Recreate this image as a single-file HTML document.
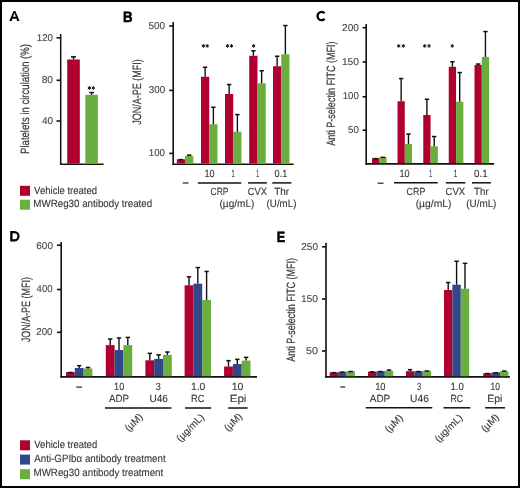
<!DOCTYPE html>
<html><head><meta charset="utf-8"><style>
html,body{margin:0;padding:0;background:#fff;}
#f{position:relative;width:520px;height:488px;box-sizing:border-box;border:2px solid #000;background:#fff;overflow:hidden;}
svg{position:absolute;left:-2px;top:-2px;font-family:"Liberation Sans", sans-serif;text-rendering:geometricPrecision;will-change:transform;}
</style></head><body>
<div id="f"><svg width="520" height="488" viewBox="0 0 520 488">
<path d="M9.3,21 L13.55,10.9 L15.35,10.9 L19.6,21 L17.2,21 L16.45,18.75 L12.45,18.75 L11.7,21 Z M13.05,16.7 L15.85,16.7 L14.45,13.1 Z" fill="#000" fill-rule="evenodd"/>
<path d="M324.55,13.20 A4.1,4.1 0 1 0 324.55,18.90" fill="none" stroke="#000" stroke-width="2.3"/>
<path d="M10.2,231.0 H14.4 A5.2,5.2 0 0 1 14.4,241.4 H10.2 Z M12.55,233.15 H14.4 A3.05,3.05 0 0 1 14.4,239.25 H12.55 Z" fill="#000" fill-rule="evenodd"/>
<line x1="60.7" y1="34" x2="60.7" y2="165" stroke="#111" stroke-width="1.5"/>
<line x1="56.5" y1="37.8" x2="60.7" y2="37.8" stroke="#111" stroke-width="1.6"/>
<line x1="56.5" y1="80.3" x2="60.7" y2="80.3" stroke="#111" stroke-width="1.6"/>
<line x1="56.5" y1="121.0" x2="60.7" y2="121.0" stroke="#111" stroke-width="1.6"/>
<line x1="60" y1="164.25" x2="103.6" y2="164.25" stroke="#111" stroke-width="1.5"/>
<rect x="67.2" y="59.5" width="12.6" height="104.1" fill="#B00030"/>
<line x1="73.5" y1="59.5" x2="73.5" y2="56.6" stroke="#111" stroke-width="1.4"/>
<line x1="71.0" y1="56.85" x2="76.0" y2="56.85" stroke="#111" stroke-width="1.5"/>
<rect x="85.3" y="94.8" width="12.6" height="68.8" fill="#6AAE40"/>
<line x1="91.6" y1="94.8" x2="91.6" y2="92.3" stroke="#111" stroke-width="1.4"/>
<line x1="89.19999999999999" y1="92.55" x2="94.0" y2="92.55" stroke="#111" stroke-width="1.5"/>
<line x1="89.4" y1="86.15" x2="89.4" y2="89.85" stroke="#1a1a1a" stroke-width="1.0"/>
<line x1="87.8" y1="87.08" x2="91.0" y2="88.92" stroke="#1a1a1a" stroke-width="1.0"/>
<line x1="87.8" y1="88.92" x2="91.0" y2="87.08" stroke="#1a1a1a" stroke-width="1.0"/>
<line x1="93.3" y1="86.15" x2="93.3" y2="89.85" stroke="#1a1a1a" stroke-width="1.0"/>
<line x1="91.7" y1="87.08" x2="94.9" y2="88.92" stroke="#1a1a1a" stroke-width="1.0"/>
<line x1="91.7" y1="88.92" x2="94.9" y2="87.08" stroke="#1a1a1a" stroke-width="1.0"/>
<rect x="20" y="185.8" width="10" height="10" fill="#B00030"/>
<rect x="20" y="199.7" width="10" height="10" fill="#6AAE40"/>
<line x1="173.2" y1="22" x2="173.2" y2="165" stroke="#111" stroke-width="1.6"/>
<line x1="169.2" y1="26.0" x2="173.2" y2="26.0" stroke="#111" stroke-width="1.6"/>
<line x1="169.2" y1="90.4" x2="173.2" y2="90.4" stroke="#111" stroke-width="1.6"/>
<line x1="169.2" y1="153.4" x2="173.2" y2="153.4" stroke="#111" stroke-width="1.6"/>
<line x1="172.4" y1="164.2" x2="293.7" y2="164.2" stroke="#111" stroke-width="1.6"/>
<rect x="176.8" y="159.3" width="8.25" height="4.199999999999989" fill="#B00030"/>
<line x1="178.72500000000002" y1="159.65" x2="183.125" y2="159.65" stroke="#111" stroke-width="1.5"/>
<rect x="185.05" y="155.8" width="8.25" height="7.699999999999989" fill="#6AAE40"/>
<line x1="189.175" y1="155.8" x2="189.175" y2="154.9" stroke="#111" stroke-width="1.4"/>
<line x1="186.97500000000002" y1="155.15" x2="191.375" y2="155.15" stroke="#111" stroke-width="1.5"/>
<rect x="201" y="76.75" width="8.25" height="86.75" fill="#B00030"/>
<line x1="205.125" y1="76.75" x2="205.125" y2="67.0" stroke="#111" stroke-width="1.4"/>
<line x1="202.925" y1="67.25" x2="207.325" y2="67.25" stroke="#111" stroke-width="1.5"/>
<rect x="209.25" y="124.25" width="8.25" height="39.25" fill="#6AAE40"/>
<line x1="213.375" y1="124.25" x2="213.375" y2="107.0" stroke="#111" stroke-width="1.4"/>
<line x1="211.175" y1="107.25" x2="215.575" y2="107.25" stroke="#111" stroke-width="1.5"/>
<rect x="225" y="94" width="8.25" height="69.5" fill="#B00030"/>
<line x1="229.125" y1="94" x2="229.125" y2="84.3" stroke="#111" stroke-width="1.4"/>
<line x1="226.925" y1="84.55" x2="231.325" y2="84.55" stroke="#111" stroke-width="1.5"/>
<rect x="233.25" y="131.75" width="8.25" height="31.75" fill="#6AAE40"/>
<line x1="237.375" y1="131.75" x2="237.375" y2="114.3" stroke="#111" stroke-width="1.4"/>
<line x1="235.175" y1="114.55" x2="239.575" y2="114.55" stroke="#111" stroke-width="1.5"/>
<rect x="249.25" y="55.75" width="8.25" height="107.75" fill="#B00030"/>
<line x1="253.375" y1="55.75" x2="253.375" y2="50.5" stroke="#111" stroke-width="1.4"/>
<line x1="251.175" y1="50.75" x2="255.575" y2="50.75" stroke="#111" stroke-width="1.5"/>
<rect x="257.5" y="83.25" width="8.25" height="80.25" fill="#6AAE40"/>
<line x1="261.625" y1="83.25" x2="261.625" y2="70.5" stroke="#111" stroke-width="1.4"/>
<line x1="259.425" y1="70.75" x2="263.825" y2="70.75" stroke="#111" stroke-width="1.5"/>
<rect x="273" y="66.25" width="8.25" height="97.25" fill="#B00030"/>
<line x1="277.125" y1="66.25" x2="277.125" y2="56.0" stroke="#111" stroke-width="1.4"/>
<line x1="274.925" y1="56.25" x2="279.325" y2="56.25" stroke="#111" stroke-width="1.5"/>
<rect x="281.25" y="54.25" width="8.25" height="109.25" fill="#6AAE40"/>
<line x1="285.375" y1="54.25" x2="285.375" y2="25.3" stroke="#111" stroke-width="1.4"/>
<line x1="283.175" y1="25.55" x2="287.575" y2="25.55" stroke="#111" stroke-width="1.5"/>
<line x1="203.4" y1="44.05" x2="203.4" y2="47.75" stroke="#1a1a1a" stroke-width="1.0"/>
<line x1="201.8" y1="44.98" x2="205.0" y2="46.82" stroke="#1a1a1a" stroke-width="1.0"/>
<line x1="201.8" y1="46.82" x2="205.0" y2="44.98" stroke="#1a1a1a" stroke-width="1.0"/>
<line x1="207.2" y1="44.05" x2="207.2" y2="47.75" stroke="#1a1a1a" stroke-width="1.0"/>
<line x1="205.6" y1="44.98" x2="208.8" y2="46.82" stroke="#1a1a1a" stroke-width="1.0"/>
<line x1="205.6" y1="46.82" x2="208.8" y2="44.98" stroke="#1a1a1a" stroke-width="1.0"/>
<line x1="227.5" y1="44.05" x2="227.5" y2="47.75" stroke="#1a1a1a" stroke-width="1.0"/>
<line x1="225.9" y1="44.98" x2="229.1" y2="46.82" stroke="#1a1a1a" stroke-width="1.0"/>
<line x1="225.9" y1="46.82" x2="229.1" y2="44.98" stroke="#1a1a1a" stroke-width="1.0"/>
<line x1="231.5" y1="44.05" x2="231.5" y2="47.75" stroke="#1a1a1a" stroke-width="1.0"/>
<line x1="229.9" y1="44.98" x2="233.1" y2="46.82" stroke="#1a1a1a" stroke-width="1.0"/>
<line x1="229.9" y1="46.82" x2="233.1" y2="44.98" stroke="#1a1a1a" stroke-width="1.0"/>
<line x1="253.6" y1="44.05" x2="253.6" y2="47.75" stroke="#1a1a1a" stroke-width="1.0"/>
<line x1="252.0" y1="44.98" x2="255.2" y2="46.82" stroke="#1a1a1a" stroke-width="1.0"/>
<line x1="252.0" y1="46.82" x2="255.2" y2="44.98" stroke="#1a1a1a" stroke-width="1.0"/>
<line x1="182.70000000000002" y1="183.0" x2="188.5" y2="183.0" stroke="#333" stroke-width="1.3"/>
<line x1="197.9" y1="182.9" x2="241.2" y2="182.9" stroke="#111" stroke-width="1.5"/>
<line x1="248.1" y1="182.9" x2="266.9" y2="182.9" stroke="#111" stroke-width="1.5"/>
<line x1="272.3" y1="182.9" x2="291.4" y2="182.9" stroke="#111" stroke-width="1.5"/>
<line x1="366.2" y1="24.1" x2="366.2" y2="165" stroke="#111" stroke-width="1.6"/>
<line x1="362.5" y1="27.7" x2="366.2" y2="27.7" stroke="#111" stroke-width="1.6"/>
<line x1="362.5" y1="62.0" x2="366.2" y2="62.0" stroke="#111" stroke-width="1.6"/>
<line x1="362.5" y1="96.8" x2="366.2" y2="96.8" stroke="#111" stroke-width="1.6"/>
<line x1="362.5" y1="130.2" x2="366.2" y2="130.2" stroke="#111" stroke-width="1.6"/>
<line x1="365.5" y1="163.9" x2="494.2" y2="163.9" stroke="#111" stroke-width="1.6"/>
<rect x="372" y="158.25" width="7.3" height="4.949999999999989" fill="#B00030"/>
<line x1="373.45" y1="158.6" x2="377.84999999999997" y2="158.6" stroke="#111" stroke-width="1.5"/>
<rect x="379.3" y="157" width="7.3" height="6.199999999999989" fill="#6AAE40"/>
<line x1="380.75" y1="157.35" x2="385.15" y2="157.35" stroke="#111" stroke-width="1.5"/>
<rect x="397.5" y="101.25" width="7.3" height="61.94999999999999" fill="#B00030"/>
<line x1="401.15" y1="101.25" x2="401.15" y2="78.3" stroke="#111" stroke-width="1.4"/>
<line x1="398.95" y1="78.55" x2="403.34999999999997" y2="78.55" stroke="#111" stroke-width="1.5"/>
<rect x="404.8" y="144" width="7.3" height="19.19999999999999" fill="#6AAE40"/>
<line x1="408.45" y1="144" x2="408.45" y2="133.8" stroke="#111" stroke-width="1.4"/>
<line x1="406.25" y1="134.05" x2="410.65" y2="134.05" stroke="#111" stroke-width="1.5"/>
<rect x="423.25" y="115" width="7.3" height="48.19999999999999" fill="#B00030"/>
<line x1="426.9" y1="115" x2="426.9" y2="99.0" stroke="#111" stroke-width="1.4"/>
<line x1="424.7" y1="99.25" x2="429.09999999999997" y2="99.25" stroke="#111" stroke-width="1.5"/>
<rect x="430.55" y="146.25" width="7.3" height="16.94999999999999" fill="#6AAE40"/>
<line x1="434.2" y1="146.25" x2="434.2" y2="136.3" stroke="#111" stroke-width="1.4"/>
<line x1="432.0" y1="136.55" x2="436.4" y2="136.55" stroke="#111" stroke-width="1.5"/>
<rect x="448.75" y="66.75" width="7.3" height="96.44999999999999" fill="#B00030"/>
<line x1="452.4" y1="66.75" x2="452.4" y2="61.5" stroke="#111" stroke-width="1.4"/>
<line x1="450.2" y1="61.75" x2="454.59999999999997" y2="61.75" stroke="#111" stroke-width="1.5"/>
<rect x="456.05" y="101.75" width="7.3" height="61.44999999999999" fill="#6AAE40"/>
<line x1="459.7" y1="101.75" x2="459.7" y2="72.3" stroke="#111" stroke-width="1.4"/>
<line x1="457.5" y1="72.55" x2="461.9" y2="72.55" stroke="#111" stroke-width="1.5"/>
<rect x="474.5" y="65" width="7.3" height="98.19999999999999" fill="#B00030"/>
<line x1="478.15" y1="65" x2="478.15" y2="63.8" stroke="#111" stroke-width="1.4"/>
<line x1="475.95" y1="64.05" x2="480.34999999999997" y2="64.05" stroke="#111" stroke-width="1.5"/>
<rect x="481.8" y="57" width="7.3" height="106.19999999999999" fill="#6AAE40"/>
<line x1="485.45" y1="57" x2="485.45" y2="31.3" stroke="#111" stroke-width="1.4"/>
<line x1="483.25" y1="31.55" x2="487.65" y2="31.55" stroke="#111" stroke-width="1.5"/>
<line x1="398.7" y1="44.05" x2="398.7" y2="47.75" stroke="#1a1a1a" stroke-width="1.0"/>
<line x1="397.1" y1="44.98" x2="400.3" y2="46.82" stroke="#1a1a1a" stroke-width="1.0"/>
<line x1="397.1" y1="46.82" x2="400.3" y2="44.98" stroke="#1a1a1a" stroke-width="1.0"/>
<line x1="403.3" y1="44.05" x2="403.3" y2="47.75" stroke="#1a1a1a" stroke-width="1.0"/>
<line x1="401.7" y1="44.98" x2="404.9" y2="46.82" stroke="#1a1a1a" stroke-width="1.0"/>
<line x1="401.7" y1="46.82" x2="404.9" y2="44.98" stroke="#1a1a1a" stroke-width="1.0"/>
<line x1="424.7" y1="44.05" x2="424.7" y2="47.75" stroke="#1a1a1a" stroke-width="1.0"/>
<line x1="423.1" y1="44.98" x2="426.3" y2="46.82" stroke="#1a1a1a" stroke-width="1.0"/>
<line x1="423.1" y1="46.82" x2="426.3" y2="44.98" stroke="#1a1a1a" stroke-width="1.0"/>
<line x1="429.05" y1="44.05" x2="429.05" y2="47.75" stroke="#1a1a1a" stroke-width="1.0"/>
<line x1="427.45" y1="44.98" x2="430.65" y2="46.82" stroke="#1a1a1a" stroke-width="1.0"/>
<line x1="427.45" y1="46.82" x2="430.65" y2="44.98" stroke="#1a1a1a" stroke-width="1.0"/>
<line x1="452.25" y1="44.05" x2="452.25" y2="47.75" stroke="#1a1a1a" stroke-width="1.0"/>
<line x1="450.65" y1="44.98" x2="453.85" y2="46.82" stroke="#1a1a1a" stroke-width="1.0"/>
<line x1="450.65" y1="46.82" x2="453.85" y2="44.98" stroke="#1a1a1a" stroke-width="1.0"/>
<line x1="377.7" y1="183.2" x2="383.5" y2="183.2" stroke="#333" stroke-width="1.3"/>
<line x1="394.0" y1="182.8" x2="437.7" y2="182.8" stroke="#111" stroke-width="1.5"/>
<line x1="445.8" y1="182.8" x2="465.3" y2="182.8" stroke="#111" stroke-width="1.5"/>
<line x1="472.0" y1="182.8" x2="490.9" y2="182.8" stroke="#111" stroke-width="1.5"/>
<line x1="61.2" y1="241.9" x2="61.2" y2="377.8" stroke="#111" stroke-width="1.6"/>
<line x1="57.0" y1="245.2" x2="61.2" y2="245.2" stroke="#111" stroke-width="1.6"/>
<line x1="57.0" y1="289.5" x2="61.2" y2="289.5" stroke="#111" stroke-width="1.6"/>
<line x1="57.0" y1="332.3" x2="61.2" y2="332.3" stroke="#111" stroke-width="1.6"/>
<line x1="60.5" y1="376.9" x2="257.0" y2="376.9" stroke="#111" stroke-width="1.7"/>
<rect x="66.0" y="372.1" width="8.8" height="4.099999999999966" fill="#B00030"/>
<line x1="68.2" y1="372.45000000000005" x2="72.60000000000001" y2="372.45000000000005" stroke="#111" stroke-width="1.5"/>
<rect x="74.8" y="368.0" width="8.8" height="8.199999999999989" fill="#30488A"/>
<line x1="79.2" y1="368.0" x2="79.2" y2="365.4" stroke="#111" stroke-width="1.4"/>
<line x1="77.0" y1="365.65" x2="81.4" y2="365.65" stroke="#111" stroke-width="1.5"/>
<rect x="83.6" y="368.5" width="8.8" height="7.699999999999989" fill="#6AAE40"/>
<line x1="88.0" y1="368.5" x2="88.0" y2="367.2" stroke="#111" stroke-width="1.4"/>
<line x1="85.8" y1="367.45" x2="90.2" y2="367.45" stroke="#111" stroke-width="1.5"/>
<rect x="105.8" y="345.1" width="8.8" height="31.099999999999966" fill="#B00030"/>
<line x1="110.2" y1="345.1" x2="110.2" y2="338.8" stroke="#111" stroke-width="1.4"/>
<line x1="108.0" y1="339.05" x2="112.4" y2="339.05" stroke="#111" stroke-width="1.5"/>
<rect x="114.6" y="350.0" width="8.8" height="26.19999999999999" fill="#30488A"/>
<line x1="119.0" y1="350.0" x2="119.0" y2="337.7" stroke="#111" stroke-width="1.4"/>
<line x1="116.8" y1="337.95" x2="121.2" y2="337.95" stroke="#111" stroke-width="1.5"/>
<rect x="123.4" y="345.1" width="8.8" height="31.099999999999966" fill="#6AAE40"/>
<line x1="127.80000000000001" y1="345.1" x2="127.80000000000001" y2="337.2" stroke="#111" stroke-width="1.4"/>
<line x1="125.60000000000001" y1="337.45" x2="130.0" y2="337.45" stroke="#111" stroke-width="1.5"/>
<rect x="145.4" y="360.3" width="8.8" height="15.899999999999977" fill="#B00030"/>
<line x1="149.8" y1="360.3" x2="149.8" y2="353.1" stroke="#111" stroke-width="1.4"/>
<line x1="147.60000000000002" y1="353.35" x2="152.0" y2="353.35" stroke="#111" stroke-width="1.5"/>
<rect x="154.20000000000002" y="358.9" width="8.8" height="17.30000000000001" fill="#30488A"/>
<line x1="158.60000000000002" y1="358.9" x2="158.60000000000002" y2="354.6" stroke="#111" stroke-width="1.4"/>
<line x1="156.40000000000003" y1="354.85" x2="160.8" y2="354.85" stroke="#111" stroke-width="1.5"/>
<rect x="163.0" y="354.9" width="8.8" height="21.30000000000001" fill="#6AAE40"/>
<line x1="167.4" y1="354.9" x2="167.4" y2="351.8" stroke="#111" stroke-width="1.4"/>
<line x1="165.20000000000002" y1="352.05" x2="169.6" y2="352.05" stroke="#111" stroke-width="1.5"/>
<rect x="184.6" y="285.3" width="8.8" height="90.89999999999998" fill="#B00030"/>
<line x1="189.0" y1="285.3" x2="189.0" y2="276.6" stroke="#111" stroke-width="1.4"/>
<line x1="186.8" y1="276.85" x2="191.2" y2="276.85" stroke="#111" stroke-width="1.5"/>
<rect x="193.4" y="283.7" width="8.8" height="92.5" fill="#30488A"/>
<line x1="197.8" y1="283.7" x2="197.8" y2="267.3" stroke="#111" stroke-width="1.4"/>
<line x1="195.60000000000002" y1="267.55" x2="200.0" y2="267.55" stroke="#111" stroke-width="1.5"/>
<rect x="202.2" y="299.9" width="8.8" height="76.30000000000001" fill="#6AAE40"/>
<line x1="206.6" y1="299.9" x2="206.6" y2="271.2" stroke="#111" stroke-width="1.4"/>
<line x1="204.4" y1="271.45" x2="208.79999999999998" y2="271.45" stroke="#111" stroke-width="1.5"/>
<rect x="224.1" y="366.5" width="8.8" height="9.699999999999989" fill="#B00030"/>
<line x1="228.5" y1="366.5" x2="228.5" y2="360.4" stroke="#111" stroke-width="1.4"/>
<line x1="226.3" y1="360.65" x2="230.7" y2="360.65" stroke="#111" stroke-width="1.5"/>
<rect x="232.9" y="364.0" width="8.8" height="12.199999999999989" fill="#30488A"/>
<line x1="237.3" y1="364.0" x2="237.3" y2="359.1" stroke="#111" stroke-width="1.4"/>
<line x1="235.10000000000002" y1="359.35" x2="239.5" y2="359.35" stroke="#111" stroke-width="1.5"/>
<rect x="241.7" y="360.6" width="8.8" height="15.599999999999966" fill="#6AAE40"/>
<line x1="246.1" y1="360.6" x2="246.1" y2="357.1" stroke="#111" stroke-width="1.4"/>
<line x1="243.9" y1="357.35" x2="248.29999999999998" y2="357.35" stroke="#111" stroke-width="1.5"/>
<line x1="76.3" y1="387.1" x2="82.10000000000001" y2="387.1" stroke="#333" stroke-width="1.3"/>
<line x1="105.0" y1="408.0" x2="171.4" y2="408.0" stroke="#111" stroke-width="1.5"/>
<line x1="185.1" y1="408.0" x2="211.2" y2="408.0" stroke="#111" stroke-width="1.5"/>
<line x1="228.2" y1="408.0" x2="247.7" y2="408.0" stroke="#111" stroke-width="1.5"/>
<line x1="326.0" y1="242.8" x2="326.0" y2="377.8" stroke="#111" stroke-width="1.6"/>
<line x1="322.0" y1="246.8" x2="326.0" y2="246.8" stroke="#111" stroke-width="1.6"/>
<line x1="322.0" y1="299.0" x2="326.0" y2="299.0" stroke="#111" stroke-width="1.6"/>
<line x1="322.0" y1="351.0" x2="326.0" y2="351.0" stroke="#111" stroke-width="1.6"/>
<line x1="325.3" y1="376.9" x2="509.9" y2="376.9" stroke="#111" stroke-width="1.7"/>
<rect x="329.7" y="372.3" width="8.4" height="3.8999999999999773" fill="#B00030"/>
<line x1="331.7" y1="372.65000000000003" x2="336.09999999999997" y2="372.65000000000003" stroke="#111" stroke-width="1.5"/>
<rect x="338.09999999999997" y="371.8" width="8.4" height="4.399999999999977" fill="#30488A"/>
<line x1="340.09999999999997" y1="372.15000000000003" x2="344.49999999999994" y2="372.15000000000003" stroke="#111" stroke-width="1.5"/>
<rect x="346.5" y="371.2" width="8.4" height="5.0" fill="#6AAE40"/>
<line x1="348.5" y1="371.55" x2="352.9" y2="371.55" stroke="#111" stroke-width="1.5"/>
<rect x="368.0" y="371.6" width="8.4" height="4.599999999999966" fill="#B00030"/>
<line x1="370.0" y1="371.95000000000005" x2="374.4" y2="371.95000000000005" stroke="#111" stroke-width="1.5"/>
<rect x="376.4" y="371.2" width="8.4" height="5.0" fill="#30488A"/>
<line x1="378.4" y1="371.55" x2="382.79999999999995" y2="371.55" stroke="#111" stroke-width="1.5"/>
<rect x="384.8" y="370.7" width="8.4" height="5.5" fill="#6AAE40"/>
<line x1="389.0" y1="370.7" x2="389.0" y2="369.8" stroke="#111" stroke-width="1.4"/>
<line x1="386.8" y1="370.05" x2="391.2" y2="370.05" stroke="#111" stroke-width="1.5"/>
<rect x="405.9" y="371.2" width="8.4" height="5.0" fill="#B00030"/>
<line x1="410.09999999999997" y1="371.2" x2="410.09999999999997" y2="369.4" stroke="#111" stroke-width="1.4"/>
<line x1="407.9" y1="369.65" x2="412.29999999999995" y2="369.65" stroke="#111" stroke-width="1.5"/>
<rect x="414.29999999999995" y="371.2" width="8.4" height="5.0" fill="#30488A"/>
<line x1="416.29999999999995" y1="371.55" x2="420.69999999999993" y2="371.55" stroke="#111" stroke-width="1.5"/>
<rect x="422.7" y="370.7" width="8.4" height="5.5" fill="#6AAE40"/>
<line x1="424.7" y1="371.05" x2="429.09999999999997" y2="371.05" stroke="#111" stroke-width="1.5"/>
<rect x="444.0" y="290.0" width="8.4" height="86.19999999999999" fill="#B00030"/>
<line x1="448.2" y1="290.0" x2="448.2" y2="282.3" stroke="#111" stroke-width="1.4"/>
<line x1="446.0" y1="282.55" x2="450.4" y2="282.55" stroke="#111" stroke-width="1.5"/>
<rect x="452.4" y="284.7" width="8.4" height="91.5" fill="#30488A"/>
<line x1="456.59999999999997" y1="284.7" x2="456.59999999999997" y2="261.0" stroke="#111" stroke-width="1.4"/>
<line x1="454.4" y1="261.25" x2="458.79999999999995" y2="261.25" stroke="#111" stroke-width="1.5"/>
<rect x="460.8" y="288.7" width="8.4" height="87.5" fill="#6AAE40"/>
<line x1="465.0" y1="288.7" x2="465.0" y2="263.1" stroke="#111" stroke-width="1.4"/>
<line x1="462.8" y1="263.35" x2="467.2" y2="263.35" stroke="#111" stroke-width="1.5"/>
<rect x="483.2" y="373.2" width="8.4" height="3.0" fill="#B00030"/>
<line x1="485.2" y1="373.55" x2="489.59999999999997" y2="373.55" stroke="#111" stroke-width="1.5"/>
<rect x="491.59999999999997" y="372.4" width="8.4" height="3.8000000000000114" fill="#30488A"/>
<line x1="493.59999999999997" y1="372.75" x2="497.99999999999994" y2="372.75" stroke="#111" stroke-width="1.5"/>
<rect x="500.0" y="371.3" width="8.4" height="4.899999999999977" fill="#6AAE40"/>
<line x1="502.0" y1="371.05" x2="506.4" y2="371.05" stroke="#111" stroke-width="1.5"/>
<line x1="340.3" y1="387.0" x2="345.2" y2="387.0" stroke="#333" stroke-width="1.3"/>
<line x1="365.75" y1="407.8" x2="432.3" y2="407.8" stroke="#111" stroke-width="1.5"/>
<line x1="443.5" y1="407.8" x2="470.3" y2="407.8" stroke="#111" stroke-width="1.5"/>
<line x1="485.1" y1="407.8" x2="505.1" y2="407.8" stroke="#111" stroke-width="1.5"/>
<rect x="20" y="440.3" width="10" height="10" fill="#B00030"/>
<rect x="20" y="454.6" width="10" height="10" fill="#30488A"/>
<rect x="20" y="469.2" width="10" height="10" fill="#6AAE40"/>
<text transform="translate(123.01,21.50) scale(0.882,1)" font-size="15.0" fill="#000" font-weight="bold" stroke="#000" stroke-width="0.6">B</text>
<text transform="translate(276.84,241.50) scale(0.842,1)" font-size="15.0" fill="#000" font-weight="bold" stroke="#000" stroke-width="0.6">E</text>
<text transform="translate(36.82,40.70) scale(0.983,1)" font-size="9.9" fill="#474747" stroke="#474747" stroke-width="0.12">120</text>
<text transform="translate(41.69,82.70) scale(1.033,1)" font-size="9.9" fill="#474747" stroke="#474747" stroke-width="0.12">80</text>
<text transform="translate(41.90,123.70) scale(1.014,1)" font-size="9.9" fill="#474747" stroke="#474747" stroke-width="0.12">40</text>
<text transform="translate(28.60,153.91) rotate(-90) scale(0.796,1)" font-size="12.0" fill="#383838" stroke="#383838" stroke-width="0.22">Platelets in circulation (%)</text>
<text transform="translate(34.10,193.60) scale(0.907,1)" font-size="10.5" fill="#383838" stroke="#383838" stroke-width="0.12">Vehicle treated</text>
<text transform="translate(33.32,207.40) scale(0.930,1)" font-size="10.5" fill="#383838" stroke="#383838" stroke-width="0.12">MWReg30 antibody treated</text>
<text transform="translate(148.60,28.50) scale(1.002,1)" font-size="9.9" fill="#474747" stroke="#474747" stroke-width="0.12">500</text>
<text transform="translate(148.70,92.60) scale(0.996,1)" font-size="9.9" fill="#474747" stroke="#474747" stroke-width="0.12">300</text>
<text transform="translate(148.82,156.30) scale(0.983,1)" font-size="9.9" fill="#474747" stroke="#474747" stroke-width="0.12">100</text>
<text transform="translate(141.10,124.79) rotate(-90) scale(0.751,1)" font-size="12.0" fill="#383838" stroke="#383838" stroke-width="0.22">JON/A-PE (MFI)</text>
<text transform="translate(204.46,176.60) scale(0.879,1)" font-size="10.4" fill="#383838" stroke="#383838" stroke-width="0.12">10</text>
<text transform="translate(231.60,176.60) scale(0.546,1)" font-size="10.4" fill="#383838" stroke="#383838" stroke-width="0.12">1</text>
<text transform="translate(256.13,176.60) scale(0.503,1)" font-size="10.4" fill="#383838" stroke="#383838" stroke-width="0.12">1</text>
<text transform="translate(274.62,176.60) scale(0.885,1)" font-size="10.4" fill="#383838" stroke="#383838" stroke-width="0.12">0.1</text>
<text transform="translate(210.47,195.00) scale(0.821,1)" font-size="10.4" fill="#383838" stroke="#383838" stroke-width="0.12">CRP</text>
<text transform="translate(247.63,195.00) scale(0.904,1)" font-size="10.4" fill="#383838" stroke="#383838" stroke-width="0.12">CVX</text>
<text transform="translate(274.20,195.00) scale(0.957,1)" font-size="10.4" fill="#383838" stroke="#383838" stroke-width="0.12">Thr</text>
<text transform="translate(219.50,206.60) scale(0.969,1)" font-size="10.4" fill="#383838" stroke="#383838" stroke-width="0.12">(µg/mL)</text>
<text transform="translate(266.61,206.60) scale(0.938,1)" font-size="10.4" fill="#383838" stroke="#383838" stroke-width="0.12">(U/mL)</text>
<text transform="translate(342.09,30.50) scale(1.021,1)" font-size="9.9" fill="#474747" stroke="#474747" stroke-width="0.12">200</text>
<text transform="translate(341.88,64.50) scale(1.034,1)" font-size="9.9" fill="#474747" stroke="#474747" stroke-width="0.12">150</text>
<text transform="translate(342.72,98.60) scale(0.983,1)" font-size="9.9" fill="#474747" stroke="#474747" stroke-width="0.12">100</text>
<text transform="translate(348.11,133.30) scale(0.985,1)" font-size="9.9" fill="#474747" stroke="#474747" stroke-width="0.12">50</text>
<text transform="translate(335.40,145.80) rotate(-90) scale(0.753,1)" font-size="12.0" fill="#383838" stroke="#383838" stroke-width="0.22">Anti P-selectin FITC (MFI)</text>
<text transform="translate(399.46,176.60) scale(0.879,1)" font-size="10.4" fill="#383838" stroke="#383838" stroke-width="0.12">10</text>
<text transform="translate(429.13,176.60) scale(0.503,1)" font-size="10.4" fill="#383838" stroke="#383838" stroke-width="0.12">1</text>
<text transform="translate(453.65,176.60) scale(0.612,1)" font-size="10.4" fill="#383838" stroke="#383838" stroke-width="0.12">1</text>
<text transform="translate(474.01,176.60) scale(0.944,1)" font-size="10.4" fill="#383838" stroke="#383838" stroke-width="0.12">0.1</text>
<text transform="translate(406.56,195.00) scale(0.854,1)" font-size="10.4" fill="#383838" stroke="#383838" stroke-width="0.12">CRP</text>
<text transform="translate(445.62,195.00) scale(0.914,1)" font-size="10.4" fill="#383838" stroke="#383838" stroke-width="0.12">CVX</text>
<text transform="translate(474.11,195.00) scale(0.931,1)" font-size="10.4" fill="#383838" stroke="#383838" stroke-width="0.12">Thr</text>
<text transform="translate(415.68,206.60) scale(0.992,1)" font-size="10.4" fill="#383838" stroke="#383838" stroke-width="0.12">(µg/mL)</text>
<text transform="translate(466.31,206.60) scale(0.948,1)" font-size="10.4" fill="#383838" stroke="#383838" stroke-width="0.12">(U/mL)</text>
<text transform="translate(36.30,248.60) scale(1.009,1)" font-size="9.9" fill="#474747" stroke="#474747" stroke-width="0.12">600</text>
<text transform="translate(36.61,292.00) scale(0.965,1)" font-size="9.9" fill="#474747" stroke="#474747" stroke-width="0.12">400</text>
<text transform="translate(36.31,335.30) scale(0.983,1)" font-size="9.9" fill="#474747" stroke="#474747" stroke-width="0.12">200</text>
<text transform="translate(29.80,342.29) rotate(-90) scale(0.747,1)" font-size="12.0" fill="#383838" stroke="#383838" stroke-width="0.22">JON/A-PE (MFI)</text>
<text transform="translate(114.06,389.50) scale(0.879,1)" font-size="10.4" fill="#383838" stroke="#383838" stroke-width="0.12">10</text>
<text transform="translate(155.63,389.50) scale(0.863,1)" font-size="10.4" fill="#383838" stroke="#383838" stroke-width="0.12">3</text>
<text transform="translate(190.97,389.50) scale(0.996,1)" font-size="10.4" fill="#383838" stroke="#383838" stroke-width="0.12">1.0</text>
<text transform="translate(231.66,389.50) scale(1.013,1)" font-size="10.4" fill="#383838" stroke="#383838" stroke-width="0.12">10</text>
<text transform="translate(109.00,401.60) scale(0.938,1)" font-size="10.4" fill="#383838" stroke="#383838" stroke-width="0.12">ADP</text>
<text transform="translate(149.40,401.60) scale(0.968,1)" font-size="10.4" fill="#383838" stroke="#383838" stroke-width="0.12">U46</text>
<text transform="translate(190.96,401.60) scale(0.895,1)" font-size="10.4" fill="#383838" stroke="#383838" stroke-width="0.12">RC</text>
<text transform="translate(229.78,401.60) scale(1.107,1)" font-size="10.4" fill="#383838" stroke="#383838" stroke-width="0.12">Epi</text>
<text transform="translate(143.40,417.40) rotate(-45)" font-size="10.0" fill="#383838" stroke="#383838" stroke-width="0.12" text-anchor="end">(µM)</text>
<text transform="translate(204.80,417.80) rotate(-45)" font-size="10.0" fill="#383838" stroke="#383838" stroke-width="0.12" text-anchor="end">(µg/mL)</text>
<text transform="translate(242.80,417.10) rotate(-45)" font-size="10.0" fill="#383838" stroke="#383838" stroke-width="0.12" text-anchor="end">(µM)</text>
<text transform="translate(301.30,249.50) scale(1.009,1)" font-size="9.9" fill="#474747" stroke="#474747" stroke-width="0.12">250</text>
<text transform="translate(300.88,302.00) scale(1.041,1)" font-size="9.9" fill="#474747" stroke="#474747" stroke-width="0.12">150</text>
<text transform="translate(306.07,354.10) scale(1.092,1)" font-size="9.9" fill="#474747" stroke="#474747" stroke-width="0.12">50</text>
<text transform="translate(294.80,361.80) rotate(-90) scale(0.749,1)" font-size="12.0" fill="#383838" stroke="#383838" stroke-width="0.22">Anti P-selectin FITC (MFI)</text>
<text transform="translate(375.15,389.50) scale(0.898,1)" font-size="10.4" fill="#383838" stroke="#383838" stroke-width="0.12">10</text>
<text transform="translate(417.08,389.50) scale(0.716,1)" font-size="10.4" fill="#383838" stroke="#383838" stroke-width="0.12">3</text>
<text transform="translate(450.42,389.50) scale(0.929,1)" font-size="10.4" fill="#383838" stroke="#383838" stroke-width="0.12">1.0</text>
<text transform="translate(490.50,389.50) scale(0.822,1)" font-size="10.4" fill="#383838" stroke="#383838" stroke-width="0.12">10</text>
<text transform="translate(369.80,401.60) scale(0.952,1)" font-size="10.4" fill="#383838" stroke="#383838" stroke-width="0.12">ADP</text>
<text transform="translate(410.09,401.60) scale(0.982,1)" font-size="10.4" fill="#383838" stroke="#383838" stroke-width="0.12">U46</text>
<text transform="translate(450.40,401.60) scale(0.844,1)" font-size="10.4" fill="#383838" stroke="#383838" stroke-width="0.12">RC</text>
<text transform="translate(487.16,401.60) scale(1.011,1)" font-size="10.4" fill="#383838" stroke="#383838" stroke-width="0.12">Epi</text>
<text transform="translate(403.50,418.40) rotate(-45)" font-size="10.0" fill="#383838" stroke="#383838" stroke-width="0.12" text-anchor="end">(µM)</text>
<text transform="translate(463.20,418.20) rotate(-45)" font-size="10.0" fill="#383838" stroke="#383838" stroke-width="0.12" text-anchor="end">(µg/mL)</text>
<text transform="translate(499.70,417.80) rotate(-45)" font-size="10.0" fill="#383838" stroke="#383838" stroke-width="0.12" text-anchor="end">(µM)</text>
<text transform="translate(34.30,448.10) scale(0.905,1)" font-size="10.5" fill="#383838" stroke="#383838" stroke-width="0.12">Vehicle treated</text>
<text transform="translate(34.30,462.20) scale(0.928,1)" font-size="10.5" fill="#383838" stroke="#383838" stroke-width="0.12">Anti-GPIbα antibody treatment</text>
<text transform="translate(33.52,476.40) scale(0.930,1)" font-size="10.5" fill="#383838" stroke="#383838" stroke-width="0.12">MWReg30 antibody treatment</text>
</svg></div>
</body></html>
